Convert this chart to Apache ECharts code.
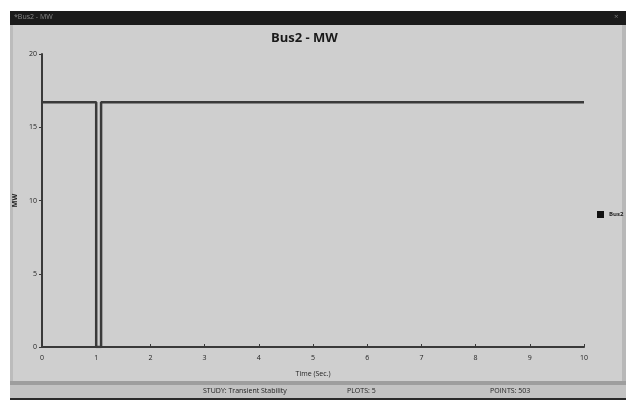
<!DOCTYPE html>
<html lang="en">
<head>
    <meta charset="UTF-8">
    <title>Bus2 - MW</title>
    <script src="https://cdn.jsdelivr.net/npm/echarts@6/dist/echarts.min.js"></script>
    <style>
        html, body { margin: 0; padding: 0; background: #ffffff; }
    </style>
</head>
<body>
<div id="main" style="width: 634px;height:403px;"></div>
<script type="text/javascript">
    // time (sec) and power (MW) of the Bus2 trace
    var timeSec = [0, 1.0, 1.0, 1.09, 1.09, 10];
    var busMW = [16.7, 16.7, 0, 0, 16.7, 16.7];
    var xTicks = [0, 1, 2, 3, 4, 5, 6, 7, 8, 9, 10];
    var yTicks = [0, 5, 10, 15, 20];

    var points = [];
    for (var i = 0; i < timeSec.length; i++) {
        points.push([timeSec[i], busMW[i]]);
    }

    var myChart = echarts.init(document.getElementById('main'));
    var small = {fontFamily: 'Open Sans', fontSize: 7, color: '#222'};

    myChart.setOption({
        animation: false,
        backgroundColor: '#ffffff',
        graphic: [
            // window body
            {type: 'rect', shape: {x: 10, y: 11, width: 616, height: 389}, style: {fill: '#cfcfcf'}, z: -10},
            {type: 'rect', shape: {x: 10, y: 25, width: 3, height: 358}, style: {fill: '#bcbcbc'}, z: -9},
            {type: 'rect', shape: {x: 622, y: 25, width: 4, height: 358}, style: {fill: '#b8b8b8'}, z: -9},
            // title bar
            {type: 'rect', shape: {x: 10, y: 11, width: 616, height: 14}, style: {fill: '#1b1b1b'}, z: -8},
            {type: 'text', left: 14, top: 13, style: {text: '*Bus2 - MW', fill: '#8a8a8a', font: '7px "Open Sans"'}},
            {type: 'text', left: 614, top: 13, style: {text: '×', fill: '#777', font: '8px "Open Sans"'}},
            // status bar
            {type: 'rect', shape: {x: 10, y: 381, width: 616, height: 4}, style: {fill: '#9e9e9e'}, z: -8},
            {type: 'rect', shape: {x: 10, y: 385, width: 616, height: 13}, style: {fill: '#c3c3c3'}, z: -8},
            {type: 'rect', shape: {x: 10, y: 398, width: 616, height: 2}, style: {fill: '#2a2a2a'}, z: -8},
            {type: 'text', left: 203, top: 387, style: {text: 'STUDY: Transient Stability', fill: '#222', font: '7px "Open Sans"'}},
            {type: 'text', left: 347, top: 387, style: {text: 'PLOTS: 5', fill: '#222', font: '7px "Open Sans"'}},
            {type: 'text', left: 490, top: 387, style: {text: 'POINTS: 503', fill: '#222', font: '7px "Open Sans"'}}
        ],
        title: {
            text: 'Bus2 - MW',
            left: 266,
            top: 27,
            textStyle: {fontFamily: 'Open Sans', fontSize: 13, fontWeight: 'bold', color: '#1a1a1a'}
        },
        legend: {
            orient: 'vertical',
            left: 592,
            top: 206,
            icon: 'rect',
            itemWidth: 7,
            itemHeight: 7,
            itemGap: 4,
            textStyle: {fontFamily: 'Open Sans', fontSize: 6, fontWeight: 'bold', color: '#222'},
            data: ['Bus2']
        },
        grid: {left: 42, right: 50, top: 54, bottom: 56},
        xAxis: {
            type: 'value',
            min: 0,
            max: 10,
            interval: 1,
            name: 'Time (Sec.)',
            nameLocation: 'middle',
            nameGap: 23,
            nameTextStyle: small,
            axisLine: {lineStyle: {color: '#3a3a3a', width: 2}},
            axisTick: {inside: true, length: 3, lineStyle: {color: '#3a3a3a'}},
            axisLabel: {fontFamily: 'Open Sans', fontSize: 7, color: '#222', margin: 7},
            splitLine: {show: false}
        },
        yAxis: {
            type: 'value',
            min: 0,
            max: 20,
            interval: 5,
            name: 'MW',
            nameLocation: 'middle',
            nameGap: 24,
            nameRotate: 90,
            nameTextStyle: {fontFamily: 'Open Sans', fontSize: 7, fontWeight: 'bold', color: '#222'},
            axisLine: {show: true, lineStyle: {color: '#3a3a3a', width: 2}},
            axisTick: {show: true, length: 3, lineStyle: {color: '#3a3a3a'}},
            axisLabel: {fontFamily: 'Open Sans', fontSize: 7, color: '#222', margin: 5},
            splitLine: {show: false}
        },
        series: [{
            name: 'Bus2',
            type: 'line',
            data: points,
            showSymbol: false,
            color: '#111',
            lineStyle: {color: '#3a3a3a', width: 2.5}
        }]
    });
</script>
</body>
</html>
